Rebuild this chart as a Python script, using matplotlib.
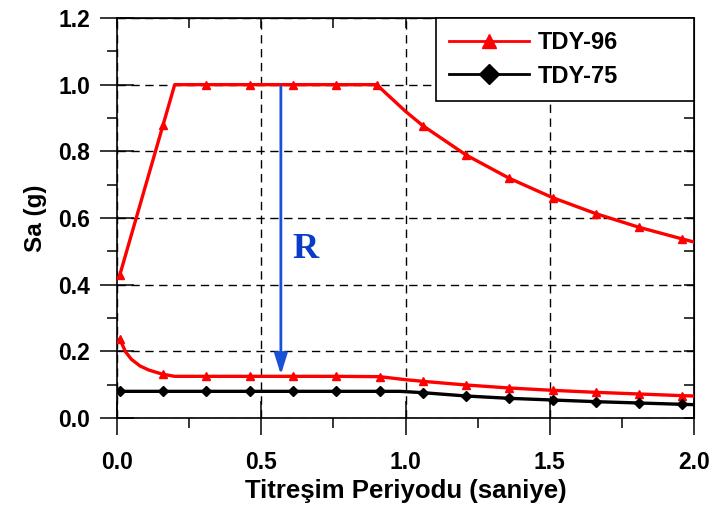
import matplotlib
matplotlib.use("Agg")
import matplotlib.pyplot as plt
from matplotlib.ticker import MultipleLocator, NullFormatter

# Elastic design spectrum (TDY-96)
t96 = [0.01, 0.16, 0.20, 0.31, 0.46, 0.61, 0.76, 0.90, 0.95, 1.00, 1.06, 1.21,
       1.36, 1.51, 1.66, 1.81, 1.96, 2.00]
sa96 = [0.43, 0.88, 1.00, 1.00, 1.00, 1.00, 1.00, 1.00, 0.96, 0.92, 0.877, 0.789,
        0.719, 0.661, 0.613, 0.572, 0.537, 0.528]
mark96 = [0, 1, 3, 4, 5, 6, 7, 10, 11, 12, 13, 14, 15, 16]

# Reduced spectrum (TDY-96 divided by R)
t96r = [0.01, 0.03, 0.05, 0.08, 0.11, 0.14, 0.16, 0.18, 0.20, 0.31, 0.46, 0.61,
        0.76, 0.91, 1.00, 1.06, 1.21, 1.36, 1.51, 1.66, 1.81, 1.96, 2.00]
sa96r = [0.236, 0.198, 0.176, 0.156, 0.144, 0.136, 0.131, 0.128, 0.125, 0.125,
         0.125, 0.125, 0.125, 0.124, 0.115, 0.110, 0.099, 0.090, 0.083, 0.077,
         0.072, 0.067, 0.066]
mark96r = [0, 6, 9, 10, 11, 12, 13, 15, 16, 17, 18, 19, 20, 21]

# TDY-75 spectrum
t75 = [0.01, 0.16, 0.31, 0.46, 0.61, 0.76, 0.91, 0.98, 1.06, 1.21, 1.36, 1.51,
       1.66, 1.81, 1.96, 2.00]
sa75 = [0.080, 0.080, 0.080, 0.080, 0.080, 0.080, 0.080, 0.080, 0.076, 0.066,
        0.059, 0.054, 0.049, 0.045, 0.041, 0.040]
mark75 = [0, 1, 2, 3, 4, 5, 6, 8, 9, 10, 11, 12, 13, 14]

arrow_t = 0.568
arrow_from, arrow_to = 0.995, 0.130

plt.rcParams['font.family'] = ['Liberation Sans', 'DejaVu Sans']
plt.rcParams['font.weight'] = 'bold'

fig = plt.figure(figsize=(7.22, 5.09), dpi=100)
ax = fig.add_axes([117/722, 1 - 418/509, (694-117)/722, (418-18)/509])

red = '#ff0000'
ax.plot(t96, sa96, color=red, lw=2.4, marker='^', ms=6, markevery=mark96,
        label='TDY-96', zorder=4)
ax.plot(t96r, sa96r, color=red, lw=2.4, marker='^', ms=6, markevery=mark96r,
        zorder=4)
ax.plot(t75, sa75, color='black', lw=2.4, marker='D', ms=5, markevery=mark75,
        label='TDY-75', zorder=4)

ax.annotate('', xy=(arrow_t, arrow_to), xytext=(arrow_t, arrow_from),
            arrowprops=dict(arrowstyle='-|>,head_length=0.7,head_width=0.22',
                            color='#1a4fd8', lw=2.0,
                            mutation_scale=18, shrinkA=0, shrinkB=0),
            zorder=5)
ax.text(0.653, 0.504, 'R', color='#0a3cc8', fontsize=26, fontweight='bold',
        family='Liberation Serif', ha='center', va='center', zorder=5)

ax.set_xlim(0, 2.0)
ax.set_ylim(0, 1.2)
ax.xaxis.set_major_locator(MultipleLocator(0.5))
ax.xaxis.set_minor_locator(MultipleLocator(0.25))
ax.yaxis.set_major_locator(MultipleLocator(0.2))
ax.yaxis.set_minor_locator(MultipleLocator(0.1))
ax.set_xticklabels([f'{v:.1f}' for v in ax.get_xticks()])
ax.set_yticklabels([f'{v:.1f}' for v in ax.get_yticks()])

ax.grid(True, which='major', color='black', ls=(0, (6, 4)), lw=1.0)
ax.tick_params(which='major', direction='inout', length=25, width=1.1,
               labelsize=16.5)
ax.tick_params(axis='x', which='major', pad=11)
ax.tick_params(axis='y', which='major', pad=7)
ax.tick_params(which='minor', direction='out', length=7, width=1.1)
for s in ax.spines.values():
    s.set_linewidth(1.2)

# mirrored inward ticks on top and right
secx = ax.secondary_xaxis('top')
secx.xaxis.set_major_locator(MultipleLocator(0.5))
secx.xaxis.set_minor_locator(MultipleLocator(0.25))
secx.xaxis.set_major_formatter(NullFormatter())
secx.tick_params(which='both', direction='in', length=7, width=1.1)
secy = ax.secondary_yaxis('right')
secy.yaxis.set_major_locator(MultipleLocator(0.2))
secy.yaxis.set_minor_locator(MultipleLocator(0.1))
secy.yaxis.set_major_formatter(NullFormatter())
secy.tick_params(which='both', direction='in', length=7, width=1.1)

ax.set_xlabel('Titreşim Periyodu (saniye)', fontsize=18.5, fontweight='bold',
              labelpad=4)
ax.set_ylabel('Sa (g)', fontsize=17.5, fontweight='bold', labelpad=8)

leg = ax.legend(loc='upper left', bbox_to_anchor=(0.553, 0.0, 0.447, 1.0),
                mode='expand', frameon=True, fancybox=False,
                edgecolor='black', framealpha=1, borderaxespad=0,
                handlelength=3.4, handletextpad=0.35, borderpad=0.55,
                labelspacing=0.45, prop={'weight': 'bold', 'size': 17})
leg.get_frame().set_linewidth(1.2)
for h in leg.legend_handles:
    h.set_markersize(10)
    h.set_linewidth(2.0)

fig.savefig('out.png', dpi=100)
